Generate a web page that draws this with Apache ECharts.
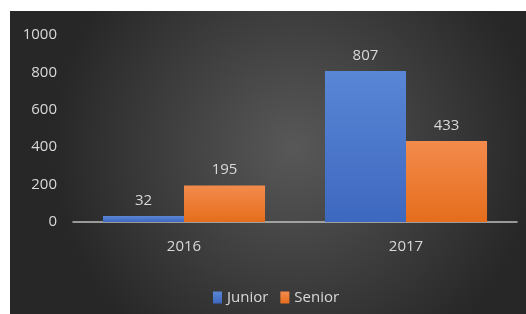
<!DOCTYPE html>
<html><head><meta charset="utf-8">
<script src="https://cdn.jsdelivr.net/npm/echarts@6/dist/echarts.min.js"></script>
<style>html,body{margin:0;padding:0;background:#fff}#c{width:526px;height:314px}</style>
</head><body><div id="c"></div>
<script>
var categories = ['2016', '2017'];
var junior = [32, 807];
var senior = [195, 433];
var yTicks = [0, 200, 400, 600, 800, 1000];

var chart = echarts.init(document.getElementById('c'));
var font = '"Open Sans", "Noto Sans", sans-serif';
var txt = '#d9d9d9';
chart.setOption({
  animation: false,
  backgroundColor: '#fff',
  graphic: [{
    type: 'rect', left: 10, top: 11, z: -10,
    shape: {width: 516, height: 303},
    style: {fill: new echarts.graphic.RadialGradient(0.55, 0.45, 0.8, [
      {offset: 0, color: '#585858'}, {offset: 1, color: '#272727'}])}
  }],
  grid: {left: 73, right: 9, top: 35, bottom: 92},
  legend: {
    data: ['Junior', 'Senior'], left: 208, top: 285,
    itemWidth: 9, itemHeight: 12, itemGap: 12,
    icon: 'rect',
    textStyle: {color: txt, fontSize: 15, fontFamily: font}
  },
  xAxis: {
    type: 'category', data: categories,
    axisLine: {lineStyle: {color: '#bfbfbf', width: 1.5}},
    axisTick: {show: false},
    axisLabel: {color: txt, fontSize: 15, fontFamily: font, margin: 17}
  },
  yAxis: {
    type: 'value', min: 0, max: 1000, interval: 200,
    splitLine: {show: false}, axisLine: {show: false}, axisTick: {show: false},
    axisLabel: {color: txt, fontSize: 15, fontFamily: font, margin: 16,
      formatter: function (v) { return String(v); }}
  },
  series: [{
    name: 'Junior', type: 'bar', data: junior, barGap: '0%', barCategoryGap: '27%',
    itemStyle: {color: new echarts.graphic.LinearGradient(0,0,0,1,[{offset:0,color:'#5a86d6'},{offset:1,color:'#3d68bf'}])},
    label: {show: true, position: 'top', distance: 8, color: txt, fontSize: 15, fontFamily: font}
  }, {
    name: 'Senior', type: 'bar', data: senior,
    itemStyle: {color: new echarts.graphic.LinearGradient(0,0,0,1,[{offset:0,color:'#f38b4c'},{offset:1,color:'#e56d1c'}])},
    label: {show: true, position: 'top', distance: 8, color: txt, fontSize: 15, fontFamily: font}
  }]
});
</script></body></html>
